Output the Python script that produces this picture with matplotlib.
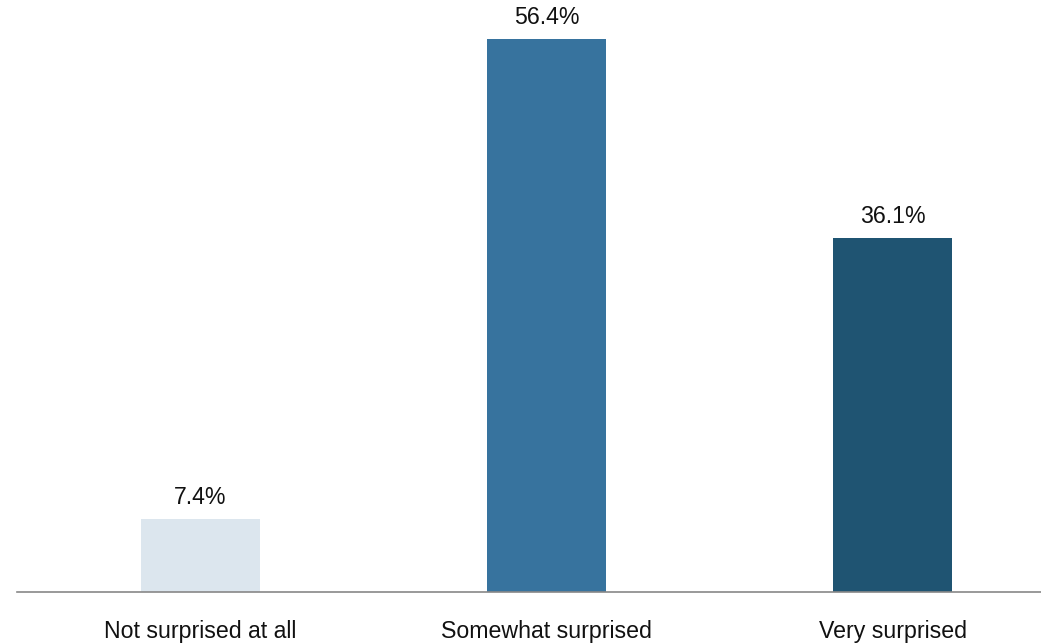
import matplotlib
matplotlib.use("Agg")
import matplotlib.pyplot as plt

categories = ["Not surprised at all", "Somewhat surprised", "Very surprised"]
shares = [7.4, 56.4, 36.1]
bar_colors = ["#dce6ee", "#37739e", "#1f5472"]

plt.rcParams["font.family"] = ["Liberation Sans", "DejaVu Sans"]

fig = plt.figure(figsize=(10.41, 6.44), dpi=100)
ax = fig.add_axes([17 / 1041, 1 - 592 / 644, 1024 / 1041, 592 / 644])

x = range(len(categories))
bars = ax.bar(x, shares, width=0.344, color=bar_colors)

for rect, val in zip(bars, shares):
    ax.annotate(f"{val:.1f}%", (rect.get_x() + rect.get_width() / 2, val),
                xytext=(0, 7.5), textcoords="offset points",
                ha="center", va="bottom", fontsize=16.7, color="#111111")

ax.set_xlim(-0.530, 2.429)
ax.set_ylim(0, 592 / 9.8)
ax.set_xticks(list(x))
ax.set_xticklabels(categories, fontsize=16.7, color="#111111")
ax.tick_params(axis="x", length=0, pad=20)
ax.set_yticks([])
for side in ["top", "left", "right"]:
    ax.spines[side].set_visible(False)
ax.spines["bottom"].set_color("#888888")
ax.spines["bottom"].set_linewidth(1.2)

fig.savefig("out.png", dpi=100)
